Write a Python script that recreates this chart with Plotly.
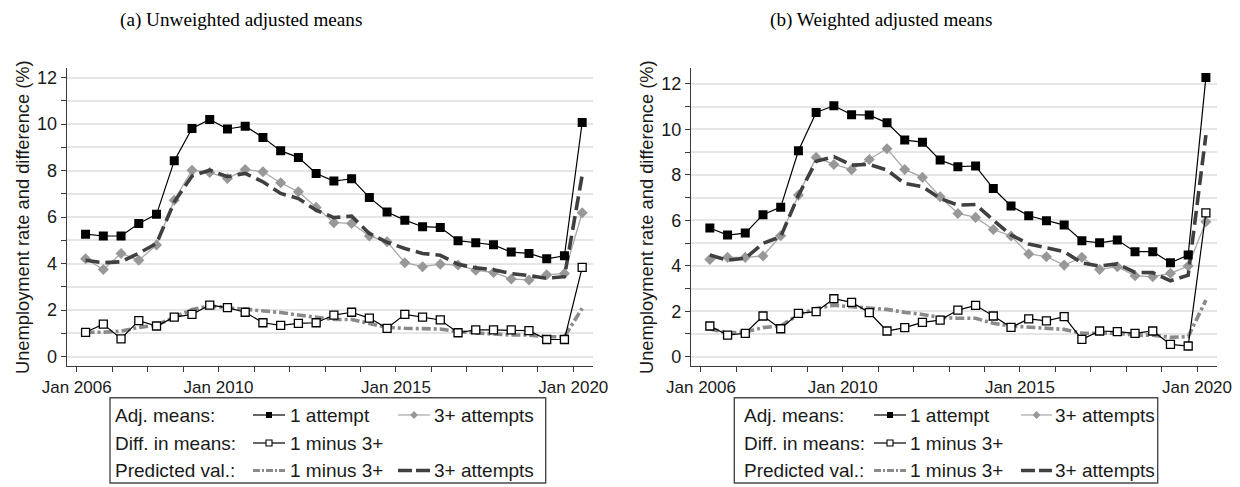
import plotly.graph_objects as go

W, H = 1240, 487

# ---------------- data ----------------
periods = [2006.25, 2006.75, 2007.25, 2007.75, 2008.25, 2008.75, 2009.25, 2009.75,
           2010.25, 2010.75, 2011.25, 2011.75, 2012.25, 2012.75, 2013.25, 2013.75,
           2014.25, 2014.75, 2015.25, 2015.75, 2016.25, 2016.75, 2017.25, 2017.75,
           2018.25, 2018.75, 2019.25, 2019.75, 2020.25]

# (a) Unweighted adjusted means
unw_one = [5.27, 5.19, 5.19, 5.73, 6.12, 8.42, 9.81, 10.20, 9.79, 9.91,
           9.43, 8.85, 8.57, 7.88, 7.55, 7.65, 6.85, 6.22, 5.87,
           5.59, 5.56, 4.99, 4.90, 4.81, 4.50, 4.44, 4.21, 4.34, 10.07]
unw_three = [4.21, 3.75, 4.44, 4.15, 4.80, 6.73, 8.02, 7.92, 7.66, 8.05,
             7.95, 7.48, 7.09, 6.42, 5.76, 5.73, 5.19, 4.94, 4.04,
             3.87, 3.98, 3.94, 3.72, 3.62, 3.34, 3.30, 3.52, 3.58, 6.19]
unw_diff = [1.05, 1.40, 0.77, 1.55, 1.32, 1.70, 1.82, 2.22, 2.11, 1.91,
            1.46, 1.35, 1.43, 1.46, 1.79, 1.91, 1.66, 1.22, 1.82,
            1.70, 1.58, 1.03, 1.15, 1.15, 1.15, 1.12, 0.74, 0.74, 3.84]
unw_pred_diff = [1.05, 1.05, 1.10, 1.26, 1.36, 1.69, 2.03, 2.18, 2.11, 2.07,
                 2.00, 1.90, 1.79, 1.69, 1.60, 1.60, 1.43, 1.26, 1.22,
                 1.22, 1.19, 1.07, 1.03, 1.00, 0.93, 0.93, 0.86, 0.86, 2.08]
unw_pred_three = [4.15, 4.04, 4.08, 4.45, 4.87, 6.65, 7.77, 8.02, 7.74, 7.88,
                  7.52, 7.02, 6.80, 6.30, 5.98, 6.04, 5.30, 4.92, 4.65,
                  4.44, 4.36, 3.97, 3.82, 3.74, 3.57, 3.49, 3.37, 3.44, 7.80]

# (b) Weighted adjusted means
wtd_one = [5.66, 5.35, 5.44, 6.25, 6.58, 9.06, 10.75, 11.04, 10.65, 10.63,
           10.29, 9.53, 9.44, 8.65, 8.36, 8.39, 7.40, 6.63, 6.20,
           5.98, 5.79, 5.10, 5.01, 5.13, 4.62, 4.62, 4.13, 4.47, 12.29]
wtd_three = [4.28, 4.37, 4.37, 4.43, 5.32, 7.11, 8.77, 8.46, 8.23, 8.68,
             9.15, 8.24, 7.89, 7.04, 6.30, 6.13, 5.60, 5.31, 4.52,
             4.40, 4.03, 4.37, 3.84, 3.96, 3.56, 3.52, 3.67, 3.99, 5.94]
wtd_diff = [1.35, 0.95, 1.03, 1.79, 1.23, 1.91, 1.98, 2.55, 2.39, 1.94,
            1.13, 1.28, 1.51, 1.61, 2.05, 2.26, 1.79, 1.29, 1.66,
            1.58, 1.76, 0.76, 1.13, 1.10, 1.03, 1.13, 0.54, 0.47, 6.33]
wtd_pred_diff = [1.22, 1.05, 1.08, 1.28, 1.35, 1.85, 2.12, 2.26, 2.20, 2.16,
                 2.08, 1.95, 1.86, 1.73, 1.69, 1.69, 1.47, 1.35, 1.29,
                 1.25, 1.20, 1.03, 1.03, 1.03, 0.95, 0.95, 0.85, 0.88, 2.49]
wtd_pred_three = [4.47, 4.25, 4.33, 4.99, 5.28, 7.10, 8.60, 8.80, 8.43, 8.46,
                  8.21, 7.62, 7.48, 6.96, 6.67, 6.70, 6.01, 5.35, 4.96,
                  4.77, 4.62, 4.13, 3.99, 4.08, 3.71, 3.70, 3.34, 3.59, 9.75]

x_tick_vals = [2006, 2007, 2008, 2009, 2010, 2011, 2012, 2013, 2014, 2015,
               2016, 2017, 2018, 2019, 2020]
x_tick_text = ["Jan 2006", "", "", "", "Jan 2010", "", "", "", "", "Jan 2015",
               "", "", "", "", "Jan 2020"]
y_tick_vals = [0, 1, 2, 3, 4, 5, 6, 7, 8, 9, 10, 11, 12]
y_tick_text = ["0", "", "2", "", "4", "", "6", "", "8", "", "10", "", "12"]

panel_titles = ["(a) Unweighted adjusted means", "(b) Weighted adjusted means"]
y_title = "Unemployment rate and difference (%)"
legend_rows = ["Adj. means:", "Diff. in means:", "Predicted val.:"]

# ---------------- style ----------------
SANS = "Liberation Sans, Arial, sans-serif"
SERIF = "Liberation Serif, Times New Roman, serif"
C_ONE = "#000000"
C_THREE_M = "#989898"
C_THREE_L = "#a8a8a8"
C_PDIFF = "#8a8a8a"
C_PTHREE = "#404040"
AX = "#3a3a3a"
GRID = "#e6e6e6"
DASH_PTHREE = "14px,6px"
DASH_PDIFF = "9px,3px,3px,3px"


def px(x):
    return x / W


def py(y):
    return 1 - y / H


fig = go.Figure()

panels = [
    dict(xa="x", ya="y", one=unw_one, three=unw_three, diff=unw_diff,
         pdiff=unw_pred_diff, pthree=unw_pred_three),
    dict(xa="x2", ya="y2", one=wtd_one, three=wtd_three, diff=wtd_diff,
         pdiff=wtd_pred_diff, pthree=wtd_pred_three),
]

for p in panels:
    kw = dict(xaxis=p["xa"], yaxis=p["ya"], showlegend=False, hoverinfo="skip")
    fig.add_trace(go.Scatter(x=periods, y=p["three"], mode="lines+markers",
                             line=dict(color=C_THREE_L, width=1.3),
                             marker=dict(symbol="diamond", size=8.5, color=C_THREE_M,
                                         line=dict(width=0)), **kw))
    fig.add_trace(go.Scatter(x=periods, y=p["pdiff"], mode="lines",
                             line=dict(color=C_PDIFF, width=3.6, dash=DASH_PDIFF), **kw))
    fig.add_trace(go.Scatter(x=periods, y=p["pthree"], mode="lines",
                             line=dict(color=C_PTHREE, width=3.6, dash=DASH_PTHREE), **kw))
    fig.add_trace(go.Scatter(x=periods, y=p["diff"], mode="lines+markers",
                             line=dict(color=C_ONE, width=1.2),
                             marker=dict(symbol="square", size=8, color="white",
                                         line=dict(color=C_ONE, width=1.3)), **kw))
    fig.add_trace(go.Scatter(x=periods, y=p["one"], mode="lines+markers",
                             line=dict(color=C_ONE, width=1.2),
                             marker=dict(symbol="square", size=9, color=C_ONE,
                                         line=dict(width=0)), **kw))

# ---------------- axes ----------------
y_dom = [py(366), py(68.3)]
x_doms = [[px(66.7), px(593)], [px(691), px(1216.7)]]
y_ranges = [[-0.40, 12.40], [-0.41, 12.69]]

xcommon = dict(range=[2005.718, 2020.555], tickmode="array", tickvals=x_tick_vals,
               ticktext=x_tick_text, ticks="outside", ticklen=5, tickwidth=1.2,
               tickcolor=AX, showline=True, linecolor=AX, linewidth=1.3,
               showgrid=False, zeroline=False, automargin=False,
               tickfont=dict(family=SANS, size=17, color="#1a1a1a"))
ycommon = dict(tickmode="array", tickvals=y_tick_vals, ticktext=y_tick_text,
               ticks="outside", ticklen=5, tickwidth=1.2, tickcolor=AX,
               showline=True, linecolor=AX, linewidth=1.3,
               showgrid=True, gridcolor=GRID, gridwidth=1.6, zeroline=False,
               automargin=False,
               tickfont=dict(family=SANS, size=18, color="#1a1a1a"))

fig.update_layout(
    width=W, height=H, margin=dict(l=0, r=0, t=0, b=0, autoexpand=False),
    paper_bgcolor="white", plot_bgcolor="rgba(0,0,0,0)", showlegend=False,
    xaxis=dict(domain=x_doms[0], anchor="y", **xcommon),
    yaxis=dict(domain=y_dom, anchor="x", range=y_ranges[0], **ycommon),
    xaxis2=dict(domain=x_doms[1], anchor="y2", **xcommon),
    yaxis2=dict(domain=y_dom, anchor="x2", range=y_ranges[1], **ycommon),
    xaxis3=dict(domain=[0, 1], range=[0, W], visible=False, fixedrange=True,
                anchor="y3", automargin=False),
    yaxis3=dict(domain=[0, 1], range=[H, 0], visible=False, fixedrange=True,
                anchor="x3", automargin=False),
)

annotations = []
shapes = []

# panel titles
for cx, t in zip([241, 881], panel_titles):
    annotations.append(dict(x=px(cx), y=py(20), xref="paper", yref="paper", text=t,
                            showarrow=False, xanchor="center", yanchor="middle",
                            font=dict(family=SERIF, size=19.2, color="#000")))
# y-axis titles
for cx in [22, 646]:
    annotations.append(dict(x=px(cx), y=py(217), xref="paper", yref="paper",
                            text=y_title, textangle=-90, showarrow=False,
                            xanchor="center", yanchor="middle",
                            font=dict(family=SANS, size=18.3, color="#1a1a1a")))

# ---------------- legends (keys drawn in pixel overlay) ----------------
legends = [
    dict(box=(110, 397.7, 545.7, 483), lab=114, s1=(253, 285), t1=289, s2=(398, 430), t2=433),
    dict(box=(734.3, 397.7, 1157.7, 483), lab=743, s1=(874, 906), t1=909, s2=(1021, 1052), t2=1054),
]
row_y = [415, 443, 470.5]
lfont = dict(family=SANS, size=19, color="#1a1a1a")
kw3 = dict(xaxis="x3", yaxis="y3", showlegend=False, hoverinfo="skip")

for L in legends:
    x0, y0, x1, y1 = L["box"]
    shapes.append(dict(type="rect", xref="paper", yref="paper", x0=px(x0), x1=px(x1),
                       y0=py(y1), y1=py(y0), line=dict(color="#4a4a4a", width=1.4)))
    for ry, lab in zip(row_y, legend_rows):
        annotations.append(dict(x=px(L["lab"]), y=py(ry), xref="paper", yref="paper",
                                text=lab, showarrow=False, xanchor="left",
                                yanchor="middle", font=lfont, borderpad=0))
    entries = [
        (row_y[0], L["s1"], L["t1"], "1 attempt", dict(color=C_ONE, width=1.2, dash="solid"),
         dict(symbol="square", size=6, color=C_ONE, line=dict(width=0))),
        (row_y[0], L["s2"], L["t2"], "3+ attempts", dict(color=C_THREE_L, width=1.2, dash="solid"),
         dict(symbol="diamond", size=6, color=C_THREE_M, line=dict(width=0))),
        (row_y[1], L["s1"], L["t1"], "1 minus 3+", dict(color=C_ONE, width=1.2, dash="solid"),
         dict(symbol="square", size=6, color="white", line=dict(color=C_ONE, width=1.1))),
        (row_y[2], L["s1"], L["t1"], "1 minus 3+", dict(color=C_PDIFF, width=3.2, dash="7px,2px,2px,2px"),
         None),
        (row_y[2], L["s2"], L["t2"], "3+ attempts", dict(color=C_PTHREE, width=3.4, dash="14px,4px"),
         None),
    ]
    for ry, (sa, sb), tx, txt, ln, mk in entries:
        fig.add_trace(go.Scatter(x=[sa, sb], y=[ry, ry], mode="lines", line=ln, **kw3))
        if mk is not None:
            fig.add_trace(go.Scatter(x=[(sa + sb) / 2], y=[ry], mode="markers",
                                     marker=mk, **kw3))
        annotations.append(dict(x=px(tx), y=py(ry), xref="paper", yref="paper",
                                text=txt, showarrow=False, xanchor="left",
                                yanchor="middle", font=lfont, borderpad=0))

fig.update_layout(annotations=annotations, shapes=shapes)
fig.write_html("out.html")
